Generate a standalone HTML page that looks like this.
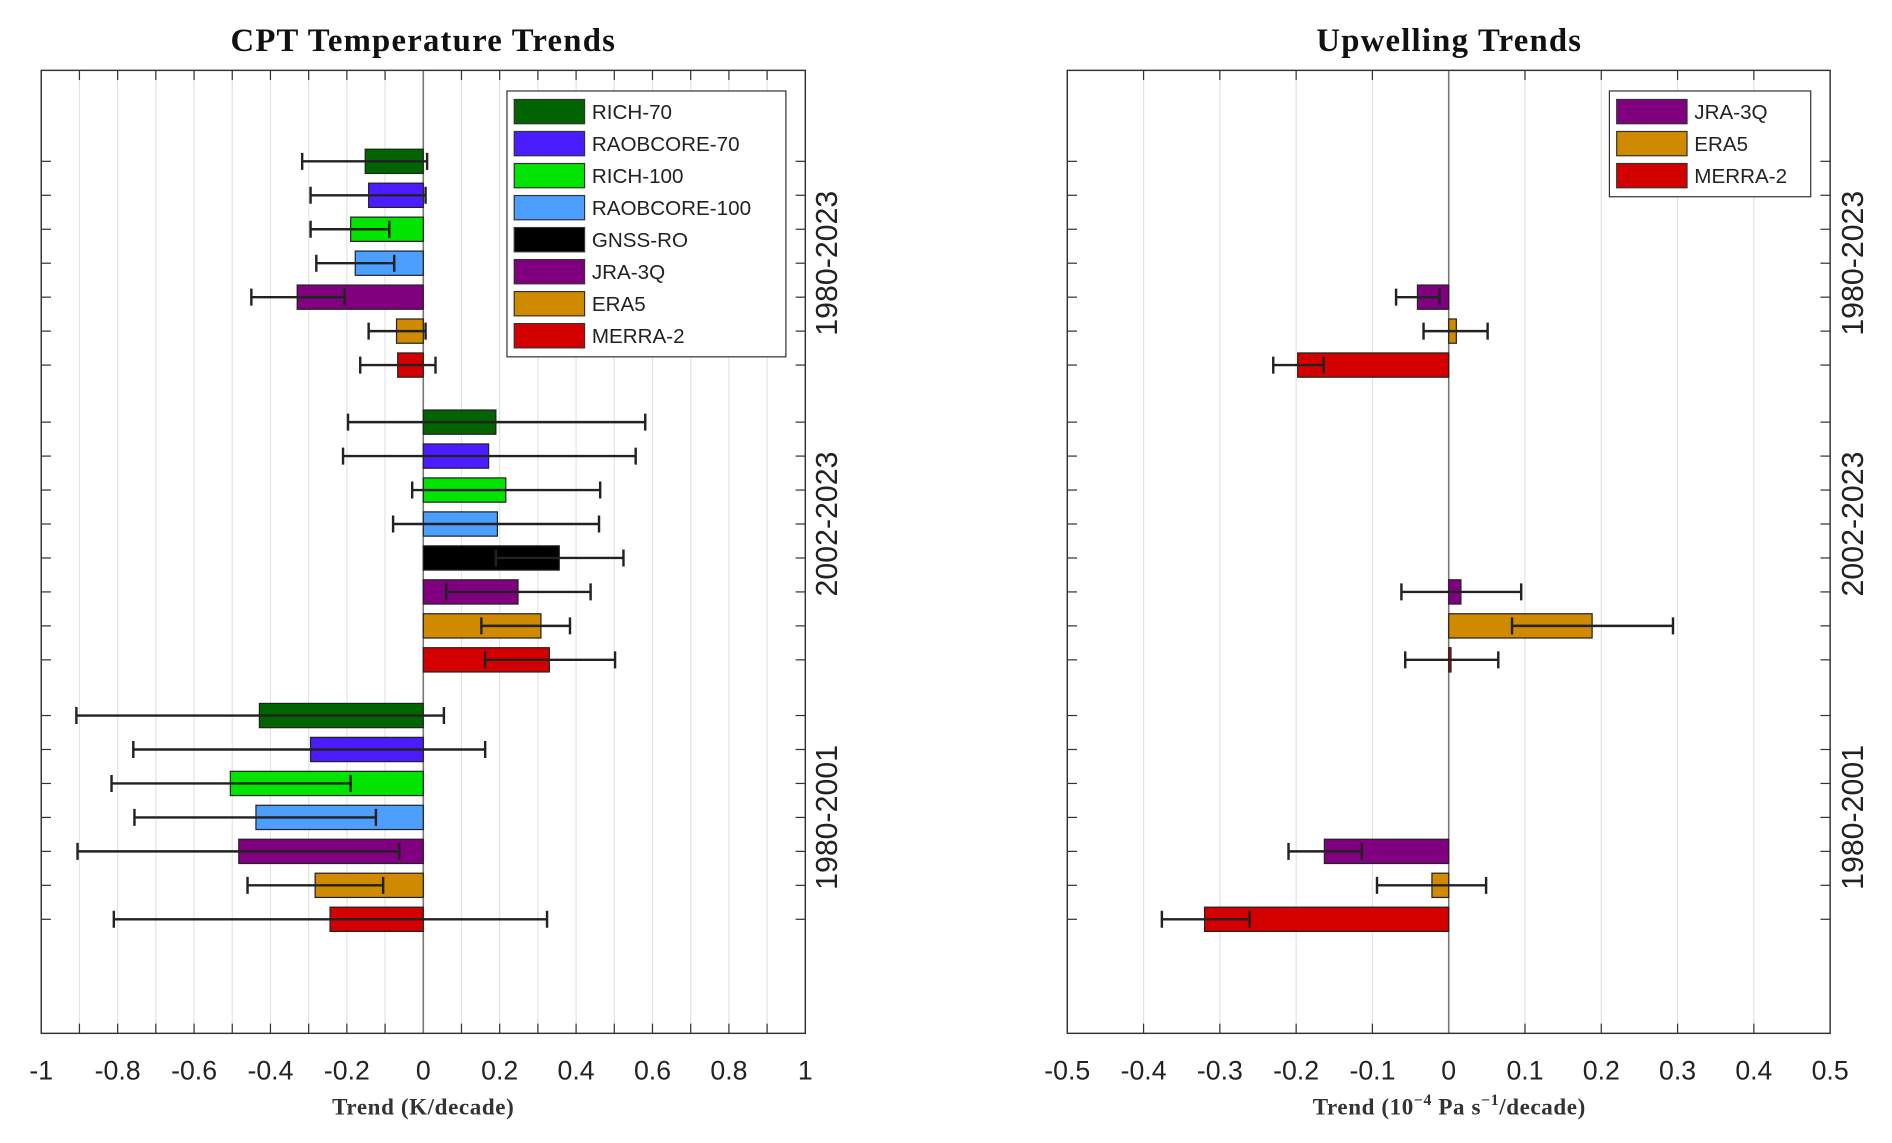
<!DOCTYPE html>
<html><head><meta charset="utf-8">
<style>
html,body{margin:0;padding:0;background:#fff;}
svg{display:block;}
.tick{font-family:"Liberation Sans",sans-serif;font-size:22px;fill:#222;}
.ttl{font-family:"Liberation Serif",serif;font-weight:bold;font-size:27px;fill:#111;letter-spacing:1px;}
.xl{font-family:"Liberation Serif",serif;font-weight:bold;font-size:19px;fill:#333;letter-spacing:0.5px;}
.leg{font-family:"Liberation Sans",sans-serif;font-size:17px;fill:#222;}
.grp{font-family:"Liberation Sans",sans-serif;font-size:25px;fill:#222;}
</style></head>
<body>
<svg id="chart" width="1892" height="1143" viewBox="0 0 1560 942.4" xmlns="http://www.w3.org/2000/svg">
<text class="ttl" x="349" y="42" text-anchor="middle">CPT Temperature Trends</text>
<text class="ttl" x="1195" y="42" text-anchor="middle">Upwelling Trends</text>
<g id="left"></g>
<g id="right"></g>
<text class="xl" x="349" y="919" text-anchor="middle">Trend (K/decade)</text>
<text class="xl" x="1195" y="919" text-anchor="middle">Trend (10<tspan font-size="13" dy="-8">−4</tspan><tspan dy="8"> Pa s</tspan><tspan font-size="13" dy="-8">−1</tspan><tspan dy="8">/decade)</tspan></text>
</svg>
<script>
const periods = ["1980-2023","2002-2023","1980-2001"];
const cptSeries = ["RICH-70","RAOBCORE-70","RICH-100","RAOBCORE-100","GNSS-RO","JRA-3Q","ERA5","MERRA-2"];
const upSeries = ["JRA-3Q","ERA5","MERRA-2"];
const colors = {"RICH-70":"#006400","RAOBCORE-70":"#4a1cff","RICH-100":"#00e400","RAOBCORE-100":"#4d9fff","GNSS-RO":"#000000","JRA-3Q":"#800080","ERA5":"#d08a00","MERRA-2":"#d40000"};
const cpt1980_2023 = [-0.152,-0.143,-0.190,-0.178,null,-0.330,-0.070,-0.067];
const cpt1980_2023Lo = [-0.317,-0.295,-0.295,-0.280,null,-0.450,-0.143,-0.165];
const cpt1980_2023Hi = [0.010,0.006,-0.089,-0.076,null,-0.206,0.006,0.032];
const cpt2002_2023 = [0.190,0.171,0.216,0.194,0.356,0.248,0.308,0.330];
const cpt2002_2023Lo = [-0.197,-0.210,-0.029,-0.079,0.190,0.060,0.152,0.162];
const cpt2002_2023Hi = [0.581,0.556,0.463,0.460,0.524,0.438,0.384,0.502];
const cpt1980_2001 = [-0.429,-0.295,-0.505,-0.438,null,-0.483,-0.283,-0.244];
const cpt1980_2001Lo = [-0.908,-0.759,-0.816,-0.756,null,-0.905,-0.460,-0.810];
const cpt1980_2001Hi = [0.054,0.162,-0.190,-0.124,null,-0.063,-0.105,0.324];
const up1980_2023 = [-0.041,0.010,-0.198];
const up1980_2023Lo = [-0.069,-0.033,-0.230];
const up1980_2023Hi = [-0.012,0.051,-0.164];
const up2002_2023 = [0.016,0.188,0.003];
const up2002_2023Lo = [-0.062,0.083,-0.057];
const up2002_2023Hi = [0.095,0.294,0.065];
const up1980_2001 = [-0.163,-0.022,-0.320];
const up1980_2001Lo = [-0.210,-0.094,-0.376];
const up1980_2001Hi = [-0.114,0.049,-0.261];
const cptTicks = [-1,-0.8,-0.6,-0.4,-0.2,0,0.2,0.4,0.6,0.8,1];
const upTicks = [-0.5,-0.4,-0.3,-0.2,-0.1,0,0.1,0.2,0.3,0.4,0.5];

const NS="http://www.w3.org/2000/svg";
function mk(parent,tag,attrs,txt){const e=document.createElementNS(NS,tag);for(const k in attrs)e.setAttribute(k,attrs[k]);if(txt!==undefined)e.textContent=txt;parent.appendChild(e);return e;}
const TOP=58,BOT=852;
const groupStart=[0,7.68,16.32];
const nSlots=[7,8,7];
function yScale(s){return 133+28*s;}
const BARH=20;

function panel(g,x0,x1,xmin,xmax,ticks,seriesNames,vals,los,his,slotFn,groupLabelX,legend){
  const xs=v=>x0+(v-xmin)/(xmax-xmin)*(x1-x0);
  const step=0.1*(xmax-xmin)/2*(xmax-xmin>1?1:2);
  const nGrid=20*(xmax-xmin>1?1:0)+10*(xmax-xmin>1?0:1);
  for(let k=1;k<nGrid;k++){
    const v=xmin+k*(xmax-xmin)/nGrid;
    const gl=mk(g,'line',{x1:xs(v),x2:xs(v),y1:TOP,y2:BOT,stroke:'#e4e4e4','stroke-width':1});
    
    
    mk(g,'line',{x1:xs(v),x2:xs(v),y1:TOP,y2:TOP+8,stroke:'#333','stroke-width':1});
    mk(g,'line',{x1:xs(v),x2:xs(v),y1:BOT,y2:BOT-8,stroke:'#333','stroke-width':1});
  }
  for(let gi=0;gi<3;gi++)for(let k=0;k<nSlots[gi];k++){
    const y=yScale(groupStart[gi]+k);
    mk(g,'line',{x1:x0,x2:x0+8,y1:y,y2:y,stroke:'#333','stroke-width':1});
    mk(g,'line',{x1:x1,x2:x1-8,y1:y,y2:y,stroke:'#333','stroke-width':1});
  }
  const z=mk(g,'line',{x1:xs(0),x2:xs(0),y1:TOP,y2:BOT,stroke:'#777','stroke-width':1.3});
  
  
  for(let gi=0;gi<3;gi++){
    for(let i=0;i<seriesNames.length;i++){
      const v=vals[gi][i]; if(v===null) continue;
      const y=yScale(groupStart[gi]+slotFn(gi,i));
      const b=mk(g,'rect',{x:Math.min(xs(0),xs(v)),y:y-BARH/2,width:Math.abs(xs(v)-xs(0)),height:BARH,fill:colors[seriesNames[i]],stroke:'#222','stroke-width':1});
      
      
      const lo=xs(los[gi][i]),hi=xs(his[gi][i]);
      const eb=mk(g,'path',{d:`M${lo},${y}H${hi}M${lo},${y-7}V${y+7}M${hi},${y-7}V${y+7}`,stroke:'#222','stroke-width':2,fill:'none'});
      
      
    }
    const cy=yScale(groupStart[gi]+3);
    const t=mk(g,'text',{class:'grp',x:groupLabelX,y:cy,'text-anchor':'middle',transform:`rotate(-90 ${groupLabelX} ${cy})`},periods[gi]);
    
    
  }
  const fr=mk(g,'rect',{x:x0,y:TOP,width:x1-x0,height:BOT-TOP,fill:'none',stroke:'#333','stroke-width':1.2});
  
  
  ticks.forEach(v=>{
    const t=mk(g,'text',{class:'tick',x:xs(v),y:890,'text-anchor':'middle'},String(v));
    
    
  });
  const lg=mk(g,'g',{});
  
  
  mk(lg,'rect',{x:legend.x,y:75,width:legend.w,height:legend.n*26.4+8,fill:'#fff',stroke:'#333','stroke-width':1});
  for(let i=0;i<legend.n;i++){
    const name=legend.names[i];
    const cy=92+26.4*i;
    const e=mk(lg,'g',{});
    
    
    mk(e,'rect',{x:legend.x+6,y:cy-10,width:58,height:20,fill:colors[name],stroke:'#333','stroke-width':1});
    mk(e,'text',{class:'leg',x:legend.x+70,y:cy+6},name);
  }
}
// GNSS-RO slot only exists in 2002-2023
function cptSlot(gi,i){ if(gi===1) return i; return i<4?i:i-1; }
// upwelling series occupy the last three slots of each group
function upSlot(gi,i){ return nSlots[gi]-3+i; }

panel(document.getElementById('left'),34,664,-1,1,cptTicks,cptSeries,
  [cpt1980_2023,cpt2002_2023,cpt1980_2001],[cpt1980_2023Lo,cpt2002_2023Lo,cpt1980_2001Lo],[cpt1980_2023Hi,cpt2002_2023Hi,cpt1980_2001Hi],
  cptSlot,690,{x:418,w:230,n:8,names:cptSeries});
panel(document.getElementById('right'),880,1509,-0.5,0.5,upTicks,upSeries,
  [up1980_2023,up2002_2023,up1980_2001],[up1980_2023Lo,up2002_2023Lo,up1980_2001Lo],[up1980_2023Hi,up2002_2023Hi,up1980_2001Hi],
  upSlot,1536,{x:1327,w:166,n:3,names:upSeries});
</script>
</body></html>
